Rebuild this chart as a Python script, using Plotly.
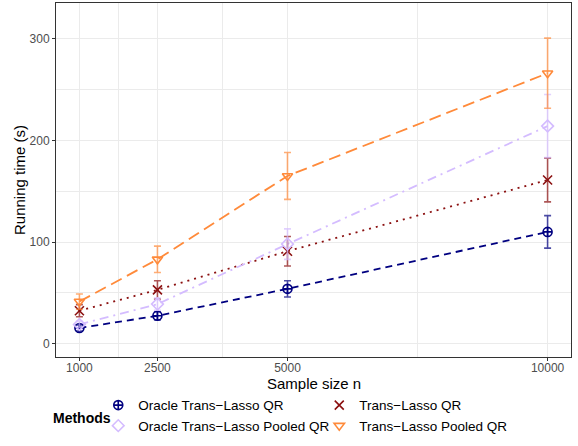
import plotly.graph_objects as go

# Données
sample_sizes = [1000, 2500, 5000, 10000]

methods = [
    "Oracle Trans\u2212Lasso QR",
    "Trans\u2212Lasso QR",
    "Oracle Trans\u2212Lasso Pooled QR",
    "Trans\u2212Lasso Pooled QR",
]

oracle_qr = [15.5, 27.5, 54, 110]
oracle_qr_sd = [3, 4, 8, 16]

trans_qr = [32.5, 53, 91, 161]
trans_qr_sd = [6, 9, 14.5, 21.5]

oracle_pooled = [19, 39, 98, 214]
oracle_pooled_sd = [3, 6, 15, 31]

trans_pooled = [41.5, 83, 165, 266]
trans_pooled_sd = [7.5, 13, 23, 34.5]

# Styles
colors = ["#000080", "#8B1010", "#D4BCFF", "#FF8A3A"]
err_colors = ["rgba(0,0,128,0.7)", "rgba(139,16,16,0.7)",
              "rgba(212,188,255,0.7)", "rgba(255,138,58,0.7)"]
dashes = ["7px,5px", "2px,5px", "9px,5px,2px,5px", "12px,6px"]
symbols = ["circle-cross-open", "x-thin-open", "diamond-open", "triangle-down-open"]

series = [oracle_qr, trans_qr, oracle_pooled, trans_pooled]
errors = [oracle_qr_sd, trans_qr_sd, oracle_pooled_sd, trans_pooled_sd]

fig = go.Figure()

# Lignes (sans légende)
for i in range(4):
    fig.add_trace(go.Scatter(
        x=sample_sizes, y=series[i], mode="lines",
        line=dict(color=colors[i], width=1.8, dash=dashes[i]),
        showlegend=False, hoverinfo="skip"
    ))

# Points + barres d'erreur
for i in range(4):
    fig.add_trace(go.Scatter(
        x=sample_sizes, y=series[i], mode="markers", name=methods[i],
        marker=dict(symbol=symbols[i], size=9, color=colors[i],
                    line=dict(color=colors[i], width=1.6)),
        error_y=dict(type="data", array=errors[i], color=err_colors[i],
                     thickness=1.6, width=3.5)
    ))

axis_style = dict(
    showline=True, linecolor="#333333", linewidth=1, mirror=True,
    ticks="outside", ticklen=3, tickcolor="#333333",
    tickfont=dict(size=12, color="#4D4D4D"),
    showgrid=True, gridcolor="#EBEBEB", gridwidth=1,
    zeroline=False, automargin=False,
)

fig.update_xaxes(
    **axis_style,
    range=[550, 10450],
    tickvals=sample_sizes,
    ticktext=[str(v) for v in sample_sizes],
    ticklabelstandoff=-3,
    minor=dict(tickvals=[1750, 3750, 7500], showgrid=True,
               gridcolor="#EBEBEB", gridwidth=0.6, ticks=""),
)

fig.update_yaxes(
    **axis_style,
    range=[-13, 335],
    tickvals=[0, 100, 200, 300],
    minor=dict(tickvals=[50, 150, 250], showgrid=True,
               gridcolor="#EBEBEB", gridwidth=0.6, ticks=""),
    title=dict(text="Running time (s)", font=dict(size=15, color="black"), standoff=0),
)

# Titre de l'axe x en annotation (placement plus précis)
fig.add_annotation(
    text="Sample size n", xref="paper", yref="paper",
    x=0.5, y=-0.074, xanchor="center", yanchor="middle",
    showarrow=False, font=dict(size=15, color="black"),
)

# Titre de la légende en annotation pour coller au placement ggplot
fig.add_annotation(
    text="<b>Methods</b>", xref="paper", yref="paper",
    x=-0.01, y=-0.172, xanchor="left", yanchor="middle",
    showarrow=False, font=dict(size=14, color="black"),
)

fig.update_layout(
    width=578, height=446,
    margin=dict(l=56, r=7, t=3, b=89),
    plot_bgcolor="white", paper_bgcolor="white",
    font=dict(family="Liberation Sans, Arial, sans-serif", color="black"),
    legend=dict(
        orientation="h", xref="container", yref="container",
        x=0.17, xanchor="left", y=0.126, yanchor="top",
        entrywidth=176, entrywidthmode="pixels",
        font=dict(size=13.5), tracegroupgap=0, itemwidth=30,
    ),
)

# marge par défaut du <body> retirée pour que la figure remplisse la fenêtre
fig.write_html("out.html", config={"displayModeBar": False},
               post_script="document.body.style.margin='0';")
